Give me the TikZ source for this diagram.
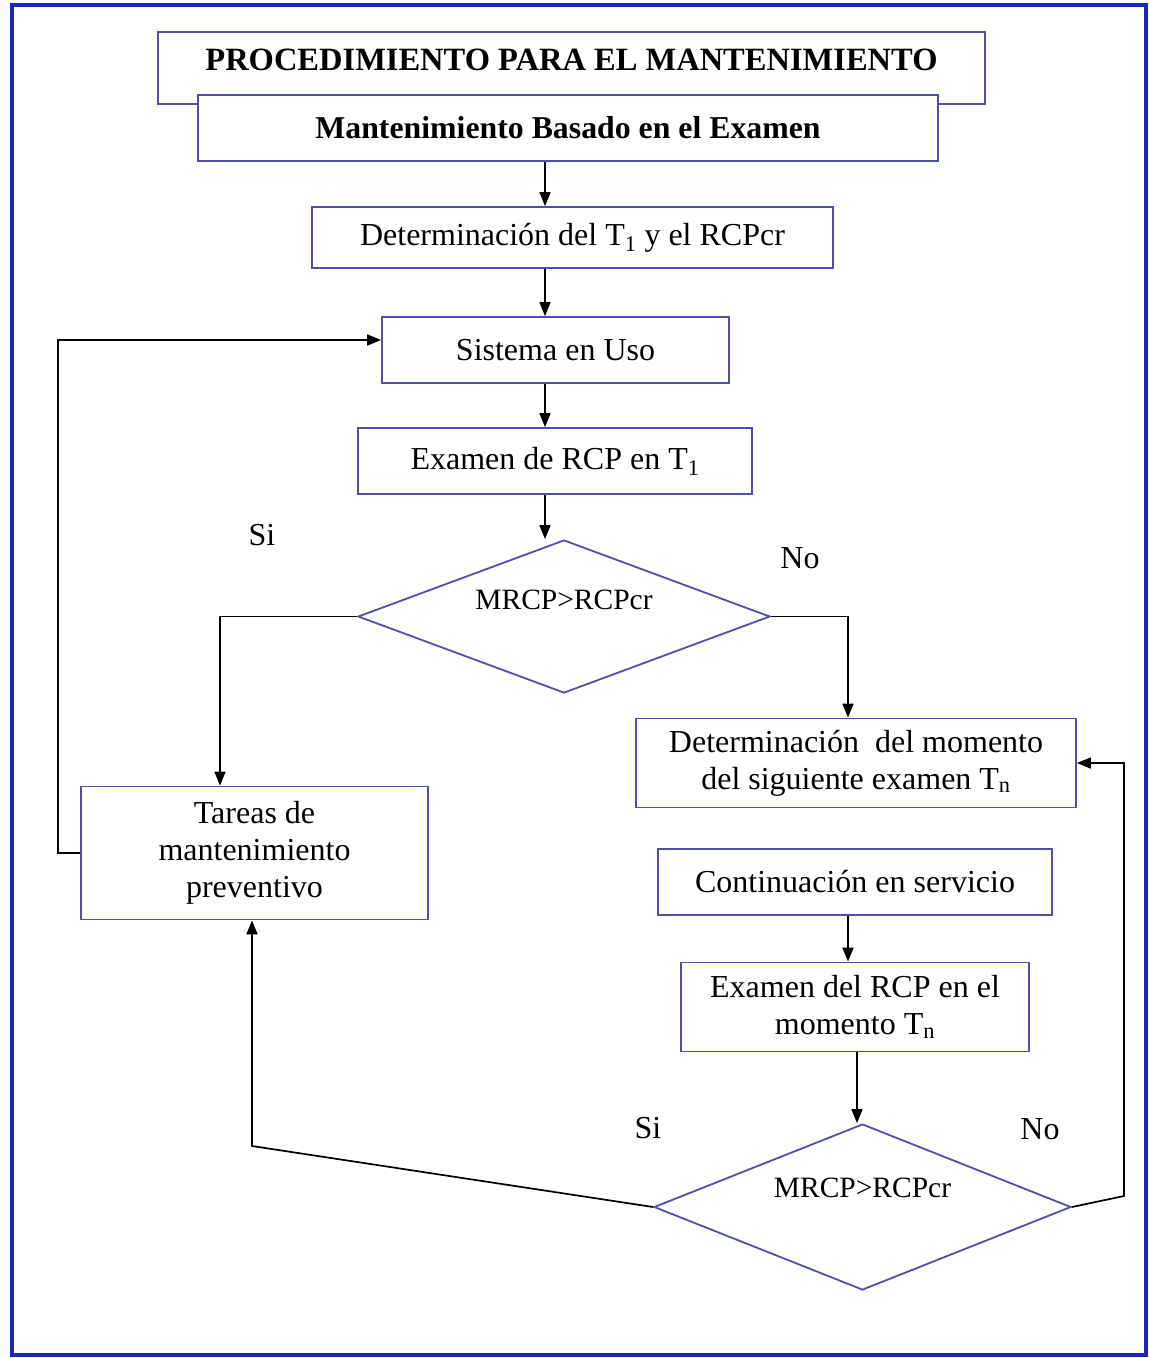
\documentclass[tikz,border=0pt]{standalone}
\usepackage{fontspec}
\setmainfont{Liberation Serif}
\usetikzlibrary{shapes.geometric,arrows.meta,calc}
\definecolor{frameblue}{RGB}{20,40,190}
\definecolor{boxline}{RGB}{80,80,170}

\begin{document}
\begin{tikzpicture}[x=1pt,y=-1pt,
  box/.style={draw=boxline,line width=1.8pt,fill=white,rectangle,inner sep=0pt,
    align=center,font=\fontsize{32}{37}\selectfont},
  dec/.style={draw=boxline,line width=1.8pt,fill=white,diamond,inner sep=0pt,
    font=\fontsize{29.5}{33}\selectfont},
  arr/.style={line width=1.7pt,-{Triangle[length=14pt,width=11pt]}},
  tag/.style={font=\fontsize{32}{37}\selectfont,inner sep=0pt}
]
\useasboundingbox (0,0) rectangle (1149,1358);
\draw[frameblue,line width=4pt] (12,5) rectangle (1146,1355);

% heading
\node[box,font=\bfseries\fontsize{32.5}{36}\selectfont,minimum width=827,minimum height=72,
  text height=22,text depth=17] (title) at (571.5,68) {PROCEDIMIENTO PARA EL MANTENIMIENTO};
\node[box,font=\bfseries\fontsize{31.8}{36}\selectfont,minimum width=740,minimum height=66]
  (sub) at (568,128) {Mantenimiento Basado en el Examen};

% main column
\node[box,minimum width=521,minimum height=61] (det1) at (572.5,237.5)
  {Determinación del T\textsubscript{1} y el RCPcr};
\node[box,minimum width=347,minimum height=66] (sis) at (555.5,350) {Sistema en Uso};
\node[box,minimum width=394,minimum height=66] (exa1) at (555,461)
  {Examen de RCP en T\textsubscript{1}};
\node[dec,shape aspect=2.7,minimum width=412,minimum height=153,text height=20,text depth=34.4]
  (d1) at (564,616.5) {MRCP>RCPcr};

% left branch
\node[box,minimum width=347,minimum height=133] (tar) at (254.5,853)
  {Tareas de\\mantenimiento\\preventivo};

% right branch
\node[box,minimum width=440,minimum height=89] (det2) at (856,763)
  {Determinación\ \ del momento\\del siguiente examen T\textsubscript{n}};
\node[box,minimum width=394,minimum height=66] (cont) at (855,882) {Continuación en servicio};
\node[box,minimum width=348,minimum height=89] (exr) at (855,1007)
  {Examen del RCP en el\\momento T\textsubscript{n}};
\node[dec,shape aspect=2.5,minimum width=417,minimum height=166,text height=20,text depth=39.4]
  (d2) at (862.5,1207) {MRCP>RCPcr};

% branch labels
\node[tag] (si1) at (262,535) {Si};
\node[tag] (no1) at (800,558) {No};
\node[tag] (si2) at (648,1128) {Si};
\node[tag] (no2) at (1040,1129) {No};

% connector guide positions
\coordinate (ax) at (545,0);
\coordinate (yesx) at (220,0);
\coordinate (nox) at (848,0);
\coordinate (backx) at (58,0);
\coordinate (bx) at (857,0);
\coordinate (sisin) at ($(sis.west)+(0,-10)$);
\coordinate (sibend) at (252,1146);
\coordinate (nobend) at (1124,1196);

% connectors
\draw[arr] (sub.south -| ax) -- (det1.north -| ax);
\draw[arr] (det1.south -| ax) -- (sis.north -| ax);
\draw[arr] (sis.south -| ax) -- (exa1.north -| ax);
\draw[arr] (exa1.south -| ax) -- (d1.north -| ax);
\draw[arr] (d1.west) -| (tar.north -| yesx);
\draw[arr] (d1.east) -| (det2.north -| nox);
\draw[arr] (tar.west) -- (tar.west -| backx) |- (sisin);
\draw[arr] (cont.south -| nox) -- (exr.north -| nox);
\draw[arr] (exr.south -| bx) -- (d2.north -| bx);
\draw[arr] (d2.west) -- (sibend) -- (tar.south -| sibend);
\draw[arr] (d2.east) -- (nobend) |- (det2.east);
\end{tikzpicture}
\end{document}
